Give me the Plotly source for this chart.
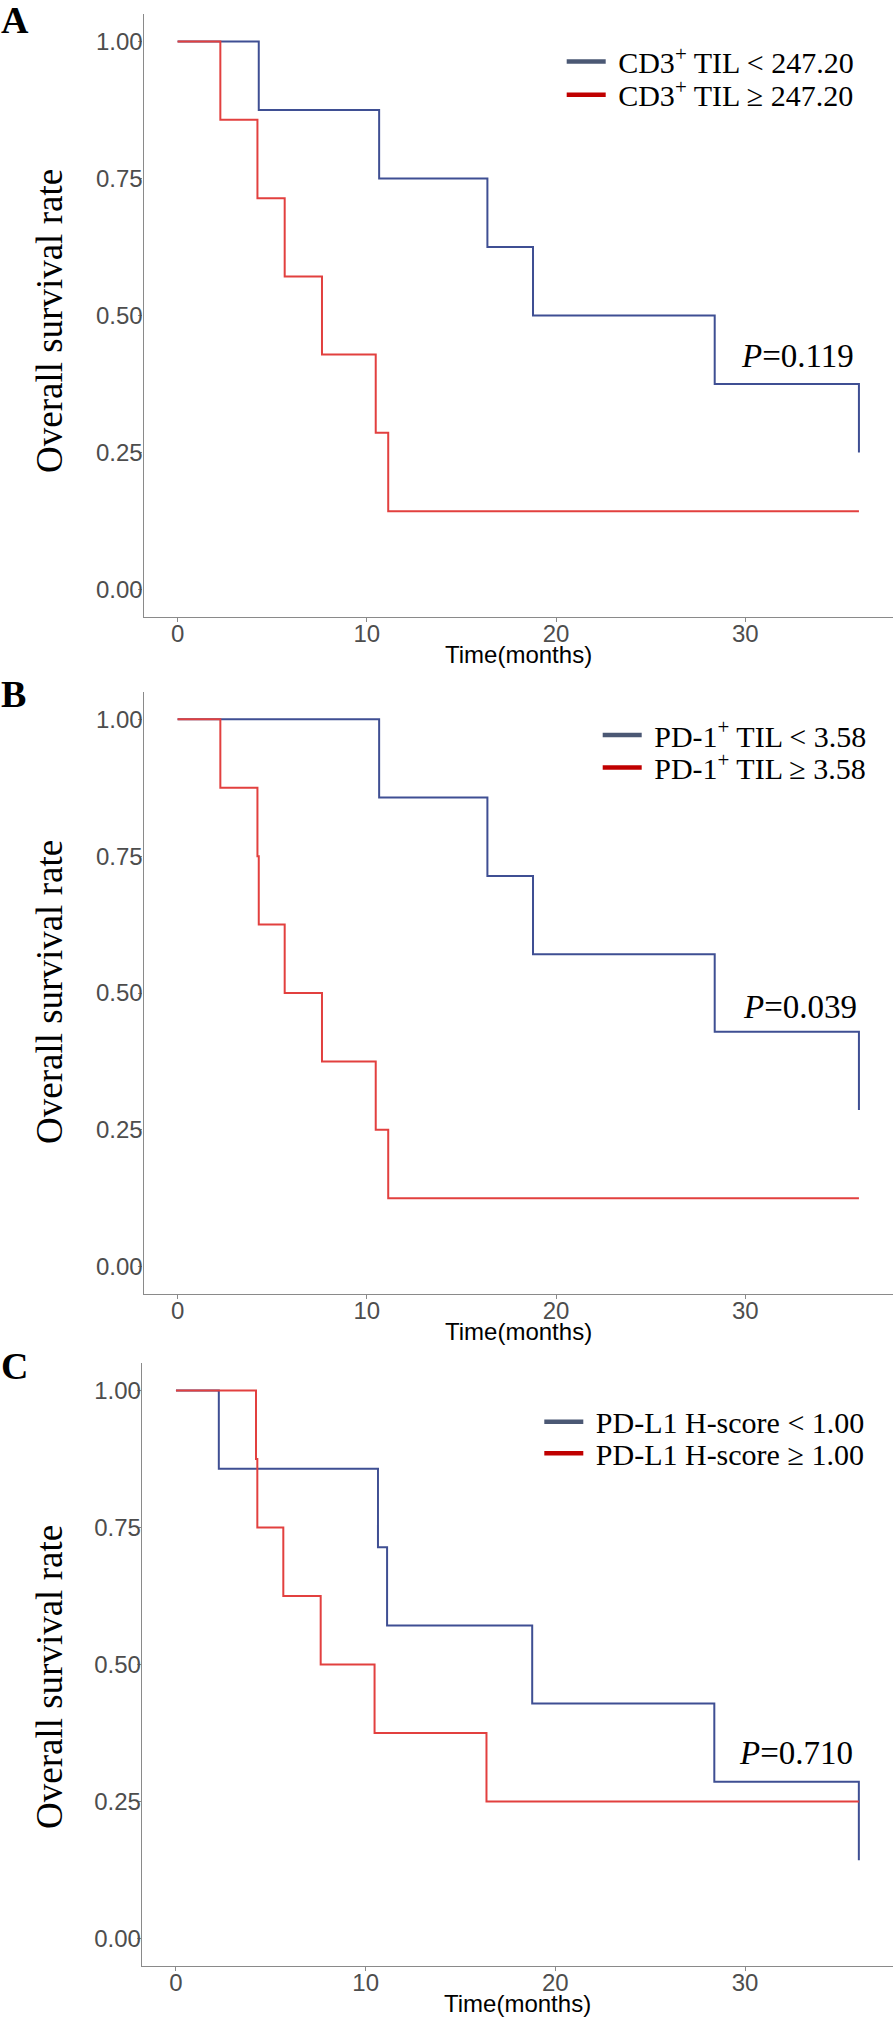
import plotly.graph_objects as go

# ---------------- data ----------------
# Panel A : CD3+ TIL
months_A_low = [0, 4.29, 10.65, 16.37, 18.78, 28.38, 36.0]
surv_A_low = [1.000, 0.875, 0.750, 0.625, 0.500, 0.375, 0.250]
months_A_high = [0, 2.26, 4.22, 5.66, 7.63, 10.47, 11.13, 36.0]
surv_A_high = [1.000, 0.857, 0.714, 0.571, 0.429, 0.286, 0.143, 0.143]

# Panel B : PD-1+ TIL
months_B_low = [0, 10.65, 16.37, 18.78, 28.38, 36.0]
surv_B_low = [1.000, 0.857, 0.714, 0.571, 0.429, 0.286]
months_B_high = [0, 2.26, 4.22, 4.29, 5.66, 7.63, 10.47, 11.13, 36.0]
surv_B_high = [1.000, 0.875, 0.750, 0.625, 0.500, 0.375, 0.250, 0.125, 0.125]

# Panel C : PD-L1 H-score
months_C_low = [0, 2.26, 10.65, 11.13, 18.78, 28.38, 36.0]
surv_C_low = [1.000, 0.857, 0.714, 0.571, 0.429, 0.286, 0.143]
months_C_high = [0, 4.22, 4.29, 5.66, 7.63, 10.47, 16.37, 36.0]
surv_C_high = [1.000, 0.875, 0.750, 0.625, 0.500, 0.375, 0.250, 0.250]

legend_low = ["\u00a0CD3<sup>+</sup> TIL &lt; 247.20",
              "\u00a0PD-1<sup>+</sup> TIL &lt; 3.58",
              "\u00a0PD-L1 H-score &lt; 1.00"]
legend_high = ["\u00a0CD3<sup>+</sup> TIL ≥ 247.20",
               "\u00a0PD-1<sup>+</sup> TIL ≥ 3.58",
               "\u00a0PD-L1 H-score ≥ 1.00"]
p_values = ["0.119", "0.039", "0.710"]
p_pos_month = [32.75, 32.9, 32.7]
p_pos_rate = [0.427, 0.475, 0.338]
panel_labels = ["A", "B", "C"]

x_ticks = [0, 10, 20, 30]
y_ticks = [0.00, 0.25, 0.50, 0.75, 1.00]

# ---------------- styling ----------------
W, H = 893, 2019
BLUE = "#3F4F93"
RED = "#E2403F"
LEG_BLUE = "#4B5874"
LEG_RED = "#C00000"
AXIS_GREY = "#8A8A8A"


def py(p):
    return 1 - p / H


# pixel geometry of each panel: (x left, y top, y bottom)
panels = [(143.5, 14, 617), (143.5, 692, 1294), (141.8, 1363, 1966)]
ytitle_center = [321, 992, 1677]
label_center = [20.5, 694, 1366]
leg_rows = [(61.5, 94.7, 566.7), (735.0, 767.5, 602.7), (1421.7, 1453.3, 544.3)]

series = [
    (months_A_low, surv_A_low, months_A_high, surv_A_high),
    (months_B_low, surv_B_low, months_B_high, surv_B_high),
    (months_C_low, surv_C_low, months_C_high, surv_C_high),
]

fig = go.Figure()
layout = dict(
    width=W, height=H,
    margin=dict(l=0, r=0, t=0, b=0),
    paper_bgcolor="white", plot_bgcolor="white",
    showlegend=True,
    annotations=[],
)

for i, (ml, sl, mh, sh) in enumerate(series):
    n = "" if i == 0 else str(i + 1)
    xa, ya = "x" + n, "y" + n
    xl, yt, yb = panels[i]
    layout["xaxis" + n] = dict(
        domain=[xl / W, 1], anchor=ya, range=[-1.8, 37.8],
        tickvals=x_ticks, ticktext=[str(v) for v in x_ticks],
        showline=True, linecolor=AXIS_GREY, linewidth=1.2,
        ticks="outside", ticklen=4, tickwidth=1, tickcolor=AXIS_GREY,
        ticklabelstandoff=-9,
        showgrid=False, zeroline=False,
        tickfont=dict(family="Liberation Sans", size=24, color="#4D4D4D"),
    )
    layout["yaxis" + n] = dict(
        domain=[py(yb), py(yt)], anchor=xa, range=[-0.05, 1.05],
        tickvals=y_ticks, tickformat=".2f",
        showline=True, linecolor=AXIS_GREY, linewidth=1.2,
        ticks="outside", ticklen=4, tickwidth=1, tickcolor=AXIS_GREY,
        ticklabelstandoff=-9,
        showgrid=False, zeroline=False,
        tickfont=dict(family="Liberation Sans", size=24, color="#4D4D4D"),
    )
    # curves
    fig.add_trace(go.Scatter(x=ml, y=sl, mode="lines", line=dict(color=BLUE, width=2, shape="hv"),
                             xaxis=xa, yaxis=ya, showlegend=False))
    fig.add_trace(go.Scatter(x=mh, y=sh, mode="lines", line=dict(color=RED, width=2, shape="hv"),
                             xaxis=xa, yaxis=ya, showlegend=False))
    # legend entries (one legend per entry so each row sits where the reference has it)
    r1, r2, lx = leg_rows[i]
    lg1 = "legend" if i == 0 else "legend" + str(2 * i + 1)
    lg2 = "legend" + str(2 * i + 2)
    fig.add_trace(go.Scatter(x=[None], y=[None], mode="lines", name=legend_low[i],
                             line=dict(color=LEG_BLUE, width=4.5), xaxis=xa, yaxis=ya, legend=lg1))
    fig.add_trace(go.Scatter(x=[None], y=[None], mode="lines", name=legend_high[i],
                             line=dict(color=LEG_RED, width=4.5), xaxis=xa, yaxis=ya, legend=lg2))
    for lg, row in ((lg1, r1), (lg2, r2)):
        layout[lg] = dict(
            x=(lx - 5) / W, xanchor="left", y=py(row), yanchor="middle",
            bgcolor="rgba(0,0,0,0)", borderwidth=0, itemwidth=39,
            font=dict(family="Liberation Serif", size=30, color="black"),
            tracegroupgap=0,
        )
    # P value
    layout["annotations"].append(dict(
        x=p_pos_month[i], y=p_pos_rate[i], xref=xa, yref=ya,
        text="<i>P</i>=" + p_values[i], showarrow=False,
        font=dict(family="Liberation Serif", size=33, color="black"),
        xanchor="center", yanchor="middle"))
    # axis titles
    layout["annotations"].append(dict(
        x=(xl + W) / 2 / W, y=py(yb + 37.7), xref="paper", yref="paper",
        text="Time(months)", showarrow=False,
        font=dict(family="Liberation Sans", size=24, color="black"),
        xanchor="center", yanchor="middle"))
    layout["annotations"].append(dict(
        x=49 / W, y=py(ytitle_center[i]), xref="paper", yref="paper",
        text="Overall survival rate", showarrow=False, textangle=-90,
        font=dict(family="Liberation Serif", size=37, color="black"),
        xanchor="center", yanchor="middle"))
    # panel label
    layout["annotations"].append(dict(
        x=-1 / W, y=py(label_center[i]), xref="paper", yref="paper",
        text="<b>" + panel_labels[i] + "</b>", showarrow=False,
        font=dict(family="Liberation Serif", size=38, color="black"),
        xanchor="left", yanchor="middle"))

fig.update_layout(**layout)
# the page's default 8px body margin would shift the whole figure; remove it
fig.write_html("out.html", config={"displayModeBar": False},
               post_script="document.body.style.margin='0px';")
